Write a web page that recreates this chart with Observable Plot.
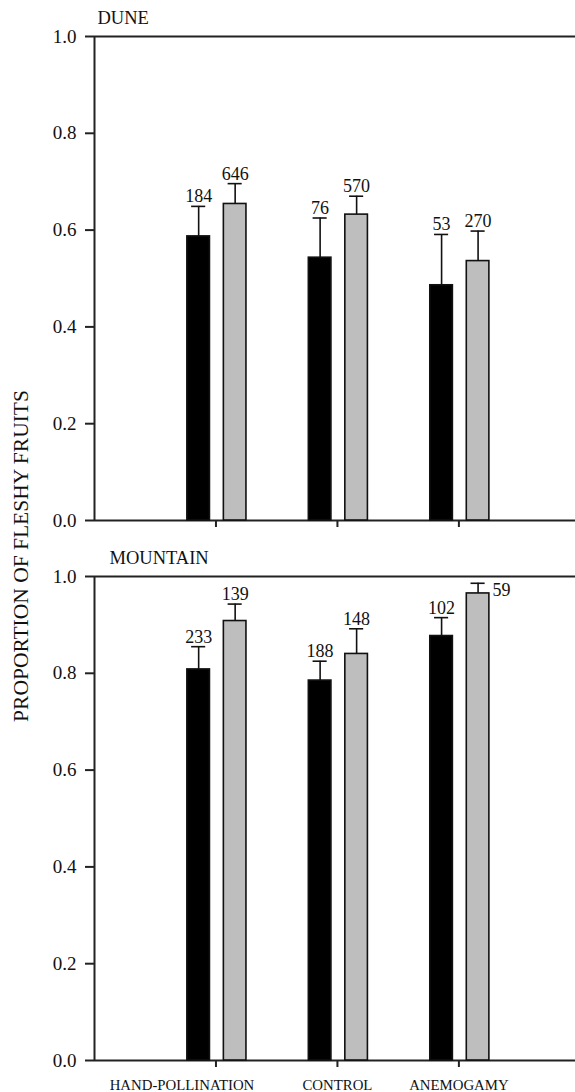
<!DOCTYPE html>
<html>
<head>
<meta charset="utf-8">
<script src="https://cdn.jsdelivr.net/npm/d3@7"></script>
<script src="https://cdn.jsdelivr.net/npm/@observablehq/plot@0.6"></script>
<style>
  body { margin: 0; background: #fff; }
  #chart { position: relative; width: 575px; height: 1092px; }
  #chart > svg { display: block; }
</style>
</head>
<body>
<div id="chart"></div>
<script>
// ---- data ----
const categories = ["HAND-POLLINATION", "CONTROL", "ANEMOGAMY"];
const seriesNames = ["Series 1", "Series 2"];          // black bars, grey bars
const panelTitles = ["DUNE", "MOUNTAIN"];
const yTicks = [0, 0.2, 0.4, 0.6, 0.8, 1.0];
const yTitle = "PROPORTION OF FLESHY FRUITS";

const duneBlack      = [0.587, 0.543, 0.486];
const duneBlackErr   = [0.062, 0.082, 0.105];
const duneBlackN     = [184, 76, 53];
const duneGrey       = [0.654, 0.632, 0.536];
const duneGreyErr    = [0.042, 0.038, 0.062];
const duneGreyN      = [646, 570, 270];

const mountainBlack    = [0.808, 0.785, 0.877];
const mountainBlackErr = [0.047, 0.040, 0.038];
const mountainBlackN   = [233, 188, 102];
const mountainGrey     = [0.908, 0.840, 0.965];
const mountainGreyErr  = [0.035, 0.052, 0.021];
const mountainGreyN    = [139, 148, 59];

// ---- layout / style ----
const FONT = "'Liberation Serif', 'Times New Roman', serif";
const INK = "#111";
const AXIS = "#222";
const fills = {"Series 1": "#000000", "Series 2": "#bebebe"};
const offsets = {"Series 1": -0.1425, "Series 2": 0.158}; // in category-step units
const halfW = 0.093;
const capHalf = 0.058;
const xMax = 3.96;

function rows(bv, be, bn, gv, ge, gn) {
  return categories.flatMap((c, i) => [
    {cat: c, i, series: seriesNames[0], v: bv[i], e: be[i], n: bn[i]},
    {cat: c, i, series: seriesNames[1], v: gv[i], e: ge[i], n: gn[i]}
  ]);
}
const cx = d => d.i + 1 + offsets[d.series];
const up = d => d.v + d.e;

function panel(title, data, titleDx, withLabels, height, marginBottom) {
  const marks = [
    Plot.ruleY([1], {stroke: AXIS, strokeWidth: 2}),
    Plot.ruleY([0], {stroke: AXIS, strokeWidth: 2}),
    Plot.ruleX([0], {stroke: AXIS, strokeWidth: 2}),
    ...seriesNames.map(s => Plot.rect(data.filter(d => d.series === s), {
      x1: d => cx(d) - halfW, x2: d => cx(d) + halfW, y1: 0, y2: "v",
      fill: fills[s], stroke: INK, strokeWidth: 1.6
    })),
    Plot.ruleX(data, {x: cx, y1: "v", y2: up, stroke: INK, strokeWidth: 1.6}),
    Plot.ruleY(data, {y: up, x1: d => cx(d) - capHalf, x2: d => cx(d) + capHalf, stroke: INK, strokeWidth: 1.6}),
    Plot.text(data.filter(d => up(d) <= 0.97), {
      x: cx, y: up, text: d => String(d.n), dy: -4, lineAnchor: "bottom",
      fontSize: 18, fill: INK
    }),
    Plot.text(data.filter(d => up(d) > 0.97), {
      x: d => cx(d) + halfW, y: "v", text: d => String(d.n), dx: 3, dy: -3,
      textAnchor: "start", lineAnchor: "middle", fontSize: 18, fill: INK
    }),
    Plot.text([title], {
      frameAnchor: "top-left", dx: titleDx, dy: -13, lineAnchor: "bottom",
      textAnchor: "start", fontSize: 18.5, fill: INK
    })
  ];
  if (withLabels) {
    const lab = categories.map((c, i) => ({c, i}));
    marks.push(
      Plot.text(lab.filter(d => d.i === 0), {x: d => d.i + 1, text: "c", frameAnchor: "bottom",
        dy: 29, dx: -34, lineAnchor: "bottom", fontSize: 14.8, fill: INK}),
      Plot.text(lab.filter(d => d.i > 0), {x: d => d.i + 1, text: "c", frameAnchor: "bottom",
        dy: 29, lineAnchor: "bottom", fontSize: 14.8, fill: INK})
    );
  }
  const svg = Plot.plot({
    width: 575,
    height,
    marginLeft: 94,
    marginRight: 0,
    marginTop: 36,
    marginBottom,
    style: {fontFamily: FONT, fontSize: "19px", color: AXIS, background: "white", overflow: "visible"},
    x: {domain: [0, xMax], ticks: [1, 2, 3], tickSize: 7, tickFormat: () => "", label: null},
    y: {domain: [0, 1], ticks: yTicks, tickFormat: d => d.toFixed(1), tickSize: 9, tickPadding: 9, label: null},
    marks
  });
  d3.select(svg).selectAll("g[aria-label*='axis'] line, g[aria-label*='axis'] path").attr("stroke-width", 2);
  d3.select(svg).selectAll("g[aria-label*='y-axis'] text").attr("fill", INK);
  return svg;
}

const chart = document.getElementById("chart");
chart.appendChild(panel(panelTitles[0],
  rows(duneBlack, duneBlackErr, duneBlackN, duneGrey, duneGreyErr, duneGreyN), 3, false, 540, 20));
chart.appendChild(panel(panelTitles[1],
  rows(mountainBlack, mountainBlackErr, mountainBlackN, mountainGrey, mountainGreyErr, mountainGreyN), 15, true, 552, 32));

// shared y-axis title spanning both panels
const ov = d3.select(chart).append("svg")
  .attr("width", 575).attr("height", 1092)
  .style("position", "absolute").style("left", "0px").style("top", "0px")
  .style("pointer-events", "none");
ov.append("text")
  .attr("transform", "translate(28,556) rotate(-90)")
  .attr("text-anchor", "middle")
  .attr("font-family", FONT)
  .attr("font-size", 21.5)
  .attr("fill", INK)
  .text(yTitle);
</script>
</body>
</html>
